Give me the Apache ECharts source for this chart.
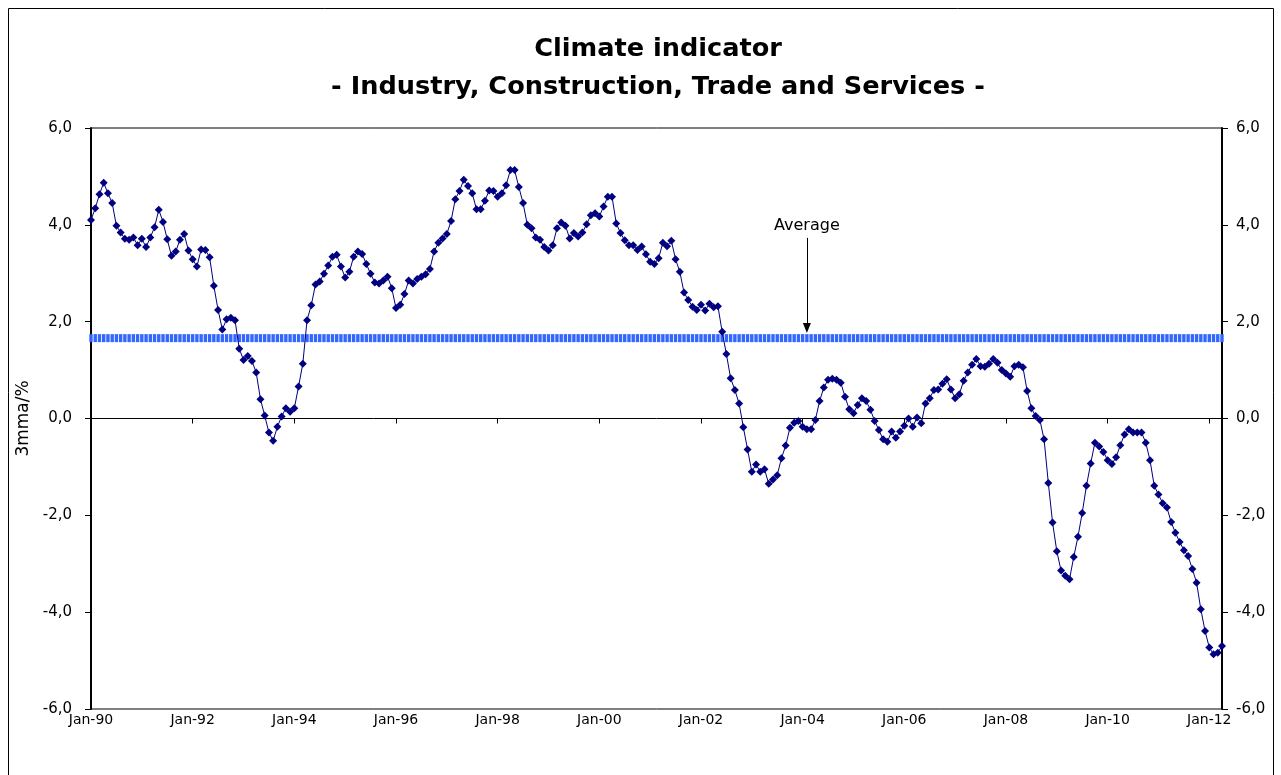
<!DOCTYPE html>
<html><head><meta charset="utf-8">
<script src="https://cdn.jsdelivr.net/npm/echarts@6/dist/echarts.min.js"></script>
<style>html,body{margin:0;padding:0;background:#fff}#c{width:1281px;height:775px}</style>
</head><body><div id="c"></div>
<script>
const monthNames = ['Jan','Feb','Mar','Apr','May','Jun','Jul','Aug','Sep','Oct','Nov','Dec'];
const startYear = 1990;
const climate = [
 4.10,4.34,4.63,4.87,4.65,4.45,3.98,3.84,3.71,3.69,3.74,3.58,
 3.71,3.54,3.74,3.95,4.31,4.06,3.70,3.36,3.45,3.69,3.81,3.47,
 3.29,3.14,3.49,3.48,3.33,2.74,2.24,1.84,2.05,2.08,2.03,1.44,
 1.21,1.29,1.19,0.95,0.40,0.06,-0.29,-0.46,-0.17,0.04,0.21,0.14,
 0.21,0.66,1.13,2.03,2.34,2.77,2.83,2.99,3.16,3.34,3.38,3.14,
 2.91,3.03,3.34,3.45,3.40,3.19,2.99,2.81,2.79,2.85,2.93,2.69,
 2.28,2.35,2.57,2.85,2.79,2.88,2.93,2.98,3.09,3.45,3.63,3.72,
 3.81,4.08,4.53,4.70,4.93,4.80,4.65,4.32,4.32,4.50,4.71,4.70,
 4.58,4.65,4.82,5.13,5.13,4.78,4.45,4.00,3.93,3.74,3.69,3.54,
 3.47,3.58,3.93,4.05,3.98,3.72,3.83,3.76,3.84,4.01,4.20,4.24,
 4.17,4.38,4.58,4.58,4.03,3.83,3.68,3.58,3.58,3.48,3.55,3.39,
 3.24,3.19,3.31,3.63,3.56,3.67,3.29,3.03,2.60,2.45,2.31,2.24,
 2.35,2.23,2.37,2.30,2.32,1.79,1.33,0.83,0.59,0.31,-0.18,-0.64,
 -1.10,-0.95,-1.10,-1.05,-1.35,-1.26,-1.17,-0.82,-0.56,-0.19,-0.09,-0.05,
 -0.17,-0.22,-0.22,-0.03,0.36,0.64,0.80,0.82,0.80,0.74,0.45,0.19,
 0.11,0.28,0.42,0.36,0.18,-0.05,-0.24,-0.43,-0.48,-0.27,-0.40,-0.27,
 -0.15,0.00,-0.17,0.02,-0.10,0.31,0.42,0.59,0.60,0.72,0.81,0.60,
 0.42,0.50,0.78,0.95,1.11,1.23,1.08,1.07,1.13,1.23,1.15,1.00,
 0.93,0.86,1.08,1.11,1.06,0.57,0.21,0.05,-0.03,-0.43,-1.33,-2.15,
 -2.74,-3.14,-3.25,-3.32,-2.86,-2.44,-1.95,-1.39,-0.93,-0.50,-0.58,-0.69,
 -0.86,-0.94,-0.80,-0.55,-0.33,-0.22,-0.29,-0.29,-0.29,-0.50,-0.86,-1.39,
 -1.57,-1.75,-1.84,-2.14,-2.36,-2.55,-2.72,-2.84,-3.11,-3.39,-3.94,-4.39,
 -4.73,-4.87,-4.84,-4.70
];
const AVERAGE = 1.66;
const arrowTop = 3.73, arrowTip = 1.87, arrowMonth = 169;
const titleLines = ['Climate indicator', '- Industry, Construction, Trade and Services -'];
const yMin = -6, yMax = 6, yStep = 2;

const categories = climate.map((v, i) => {
  const y = startYear + Math.floor(i / 12);
  return monthNames[i % 12] + '-' + String(y % 100).padStart(2, '0');
});
const averageSeries = climate.map(() => AVERAGE);
const FONT = 'DejaVu Sans';
const fmt = v => v.toFixed(1).replace('.', ',');

const chart = echarts.init(document.getElementById('c'), null, {renderer: 'canvas'});
const yAxisBase = {
  type: 'value', min: yMin, max: yMax, interval: yStep,
  axisLine: {show: true, lineStyle: {color: '#000', width: 2}},
  axisTick: {show: true, length: 6, lineStyle: {color: '#000'}},
  splitLine: {show: false}
};
const yLabel = m => ({formatter: fmt, color: '#000', fontFamily: FONT, fontSize: 15, margin: m});
chart.setOption({
  animation: false,
  backgroundColor: '#fff',
  title: {
    text: titleLines.join('\n'), left: 653, textAlign: 'center', top: 25,
    textStyle: {fontFamily: FONT, fontWeight: 'bold', fontSize: 25.6, lineHeight: 38, color: '#000'}
  },
  grid: {left: 91, right: 59, top: 128, bottom: 66, show: true, borderColor: '#000', borderWidth: 1},
  xAxis: {
    type: 'category', data: categories, boundaryGap: false,
    axisLine: {lineStyle: {color: '#000', width: 1}},
    axisTick: {show: true, length: 5, interval: i => i % 24 === 0, lineStyle: {color: '#000'}},
    axisLabel: {interval: i => i % 24 === 0, color: '#000', fontFamily: FONT, fontSize: 14, margin: 4},
    splitLine: {show: false}
  },
  yAxis: [
    Object.assign({}, yAxisBase, {position: 'left', axisLabel: yLabel(19), name: '3mma/%', nameLocation: 'middle', nameRotate: 90, nameGap: 53,
      nameTextStyle: {fontFamily: FONT, fontSize: 17, color: '#000'}}),
    Object.assign({}, yAxisBase, {position: 'right', axisLabel: yLabel(14)})
  ],
  series: [
    {
      name: 'Average', type: 'line', data: averageSeries, yAxisIndex: 0,
      symbol: 'rect', symbolSize: [3.4, 8], showSymbol: true, showAllSymbol: true,
      lineStyle: {width: 0, opacity: 0}, itemStyle: {color: '#3366ff'}, z: 2,
      markLine: {
        silent: true, symbol: ['none', 'triangle'], symbolSize: [8, 10],
        lineStyle: {color: '#000', width: 1, type: 'solid'},
        label: {show: true, position: 'start', formatter: 'Average', distance: 4, color: '#000', fontFamily: FONT, fontSize: 16},
        data: [[{coord: [arrowMonth, arrowTop]}, {coord: [arrowMonth, arrowTip]}]]
      }
    },
    {
      name: 'Climate', type: 'line', data: climate, yAxisIndex: 0,
      symbol: 'diamond', symbolSize: 8, showSymbol: true, showAllSymbol: true,
      lineStyle: {color: '#000080', width: 1}, itemStyle: {color: '#000080'}, z: 3
    }
  ],
  graphic: [{type: 'rect', shape: {x: 8.5, y: 8.5, width: 1265, height: 780}, style: {fill: null, stroke: '#000', lineWidth: 1}, silent: true}]
});
</script></body></html>
